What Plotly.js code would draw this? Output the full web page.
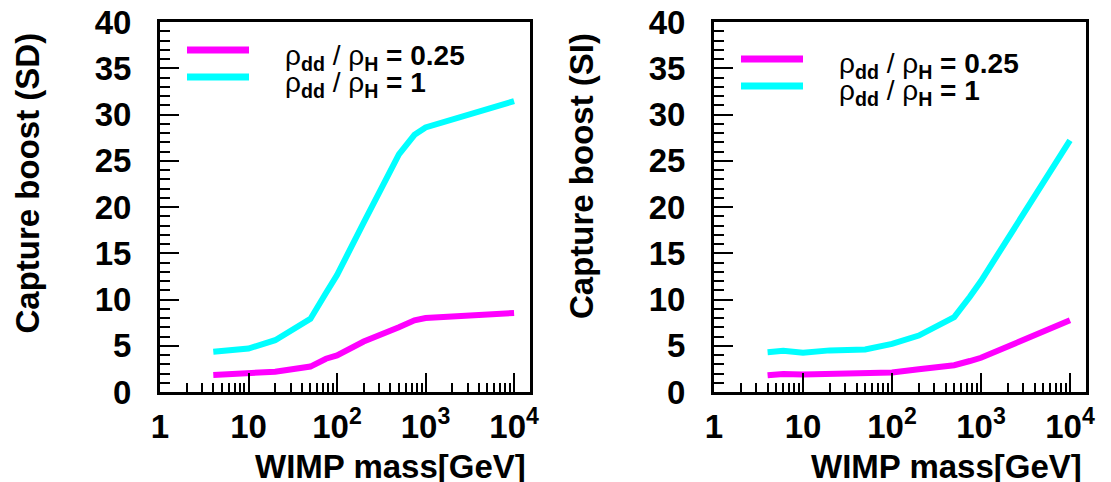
<!DOCTYPE html>
<html>
<head>
<meta charset="utf-8">
<script src="https://cdn.plot.ly/plotly-3.0.1.min.js"></script>
<style>html,body{margin:0;padding:0;background:#fff;}#chart{width:1111px;height:482px;}</style>
</head>
<body>
<div id="chart"></div>
<script>
// ---- data ----
const massSD = [4, 10, 20, 50, 75, 100, 200, 500, 750, 1000, 10000];
const sdRatio025 = [1.85, 2.0, 2.2, 2.75, 3.6, 3.95, 5.45, 7.0, 7.75, 8.0, 8.55];
const sdRatio1 = [4.35, 4.7, 5.6, 7.9, 10.7, 12.65, 18.3, 25.7, 27.8, 28.6, 31.45];

const massSI = [4, 6, 10, 20, 50, 100, 200, 500, 750, 1000, 10000];
const siRatio025 = [1.8, 1.95, 1.9, 1.95, 1.95, 2.1, 2.45, 2.9, 3.35, 3.7, 7.75];
const siRatio1 = [4.3, 4.45, 4.25, 4.5, 4.6, 5.2, 6.1, 8.1, 10.3, 12.0, 27.2];

const seriesNames = ["ρ<sub><b>dd</b></sub> / ρ<sub><b>H</b></sub> <b>= 0.25</b>",
                     "ρ<sub><b>dd</b></sub> / ρ<sub><b>H</b></sub> <b>= 1</b>"];
const xTickVals = [1, 10, 100, 1000, 10000];
const xTickText = ["1", "10", "10<sup>2</sup>", "10<sup>3</sup>", "10<sup>4</sup>"];
const yTitles = ["Capture boost (SD)", "Capture boost (SI)"];
const xTitle = "WIMP mass[GeV]";

// ---- styling ----
const W = 1111, H = 482;
const MAG = "#ff00ff", CYAN = "#00ffff";
const FONT = "Liberation Sans, Arial, Helvetica, sans-serif";
const px = v => v / W;
const py = v => (H - v) / H;

const minorVals = [];
[1, 10, 100, 1000].forEach(d => { for (let k = 2; k <= 9; k++) minorVals.push(k * d); });

function xAxis(domain, anchor) {
  return {
    domain: domain, anchor: anchor, type: "log", range: [0, 4.18],
    tickmode: "array", tickvals: xTickVals, ticktext: xTickText,
    ticks: "inside", ticklen: 19, tickwidth: 2, tickcolor: "#000",
    showline: true, linewidth: 3, linecolor: "#000", mirror: true,
    showgrid: false, zeroline: false,
    tickfont: {family: FONT, size: 33, color: "#000", weight: "bold"},
    ticklabelstandoff: 3,
    minor: {tickmode: "array", tickvals: minorVals, ticks: "inside", ticklen: 9,
            tickwidth: 2, tickcolor: "#000", showgrid: false}
  };
}
function yAxis(anchor) {
  return {
    domain: [90 / H, 460 / H], anchor: anchor, range: [0, 40],
    tickmode: "linear", tick0: 0, dtick: 5,
    ticks: "inside", ticklen: 19, tickwidth: 2, tickcolor: "#000",
    showline: true, linewidth: 3, linecolor: "#000", mirror: true,
    showgrid: false, zeroline: false,
    tickfont: {family: FONT, size: 33, color: "#000", weight: "bold"},
    ticklabelstandoff: 19,
    minor: {dtick: 1, ticks: "inside", ticklen: 10, tickwidth: 2, tickcolor: "#000", showgrid: false}
  };
}

const data = [
  {x: massSD, y: sdRatio025, xaxis: "x", yaxis: "y", mode: "lines", name: seriesNames[0], line: {color: MAG, width: 6}, showlegend: false},
  {x: massSD, y: sdRatio1, xaxis: "x", yaxis: "y", mode: "lines", name: seriesNames[1], line: {color: CYAN, width: 6}, showlegend: false},
  {x: massSI, y: siRatio025, xaxis: "x2", yaxis: "y2", mode: "lines", name: seriesNames[0], line: {color: MAG, width: 6}, showlegend: false},
  {x: massSI, y: siRatio1, xaxis: "x2", yaxis: "y2", mode: "lines", name: seriesNames[1], line: {color: CYAN, width: 6}, showlegend: false}
];

// legend blocks (line samples + labels) and axis titles
const panels = [
  {left: 160, right: 530, legY: 50, titleX: 27},
  {left: 714, right: 1086, legY: 59, titleX: 581}
];
const shapes = [];
const annotations = [];
panels.forEach((p, i) => {
  [MAG, CYAN].forEach((c, j) => {
    const yy = p.legY + j * 27;
    shapes.push({type: "line", xref: "paper", yref: "paper",
      x0: px(p.left + 27), x1: px(p.left + 89), y0: py(yy), y1: py(yy),
      line: {color: c, width: 7}});
    annotations.push({xref: "paper", yref: "paper", x: px(p.left + 123), y: py(yy + 7),
      xanchor: "left", yanchor: "middle", showarrow: false, text: seriesNames[j],
      font: {family: FONT, size: 28, color: "#000"}});
  });
  annotations.push({xref: "paper", yref: "paper", x: px(p.titleX), y: py(31),
    xanchor: "center", yanchor: "top", textangle: -90, showarrow: false, text: yTitles[i],
    font: {family: FONT, size: 33, color: "#000", weight: "bold"}});
  annotations.push({xref: "paper", yref: "paper", x: px(p.right - 2), y: py(446),
    xanchor: "right", yanchor: "top", showarrow: false, text: xTitle,
    font: {family: FONT, size: 33, color: "#000", weight: "bold"}});
});

const layout = {
  width: W, height: H, margin: {l: 0, r: 0, t: 0, b: 0},
  paper_bgcolor: "#fff", plot_bgcolor: "#fff", showlegend: false,
  xaxis: xAxis([160 / W, 530 / W], "y"),
  yaxis: yAxis("x"),
  xaxis2: xAxis([714 / W, 1086 / W], "y2"),
  yaxis2: yAxis("x2"),
  shapes: shapes, annotations: annotations
};

Plotly.newPlot("chart", data, layout, {staticPlot: true, displayModeBar: false});
</script>
</body>
</html>
